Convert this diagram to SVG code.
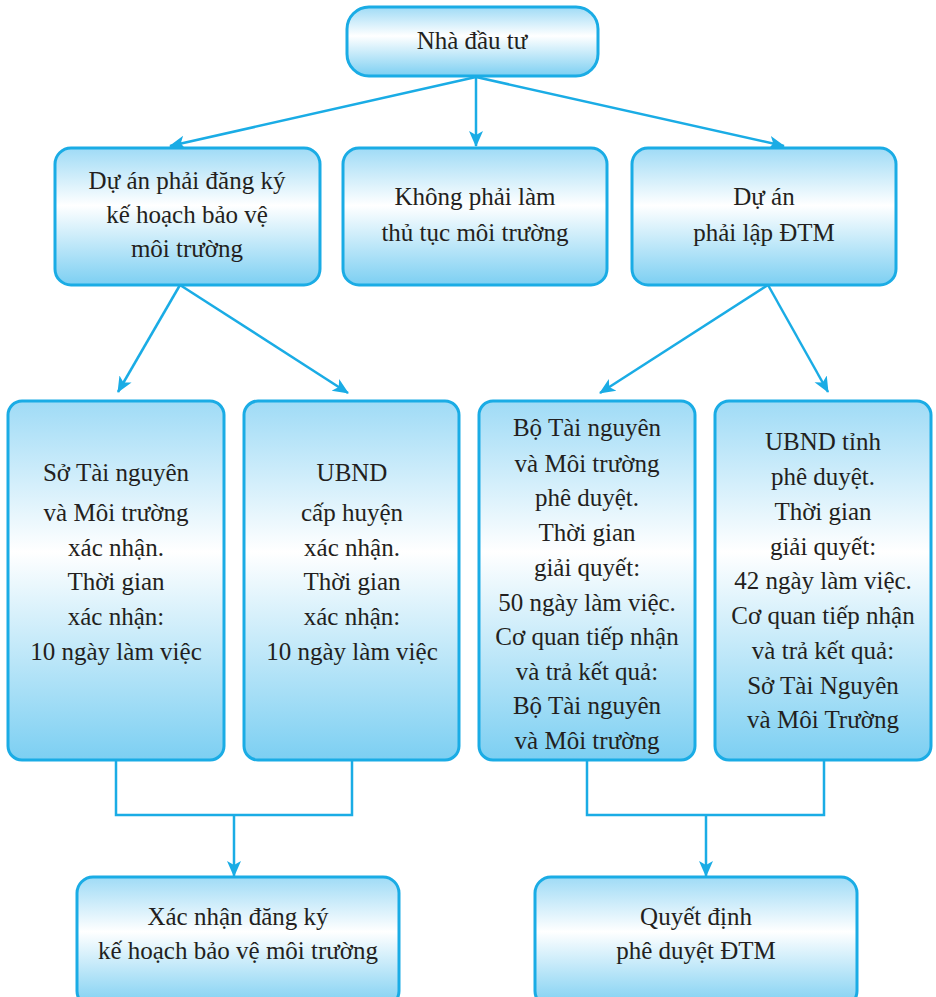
<svg xmlns="http://www.w3.org/2000/svg" width="936" height="997" viewBox="0 0 936 997">
<defs>
<linearGradient id="g" x1="0" y1="0" x2="0" y2="1">
<stop offset="0" stop-color="#9fdbf6"/>
<stop offset="0.42" stop-color="#ffffff"/>
<stop offset="1" stop-color="#7ccff2"/>
</linearGradient>
<marker id="ah" markerUnits="userSpaceOnUse" markerWidth="16" markerHeight="16" viewBox="0 0 16 16" refX="15" refY="8" orient="auto">
<path d="M0,1 L16,8 L0,15 L4,8 Z" fill="#1aace5"/>
</marker>
</defs>
<style>
.box{fill:url(#g);stroke:#1aace5;stroke-width:3}
.t{font-family:'Liberation Serif','Times New Roman',serif;font-size:25px;fill:#231f20;text-anchor:middle}
.c{fill:none;stroke:#1aace5;stroke-width:2.5}
</style>
<rect width="936" height="997" fill="#ffffff"/>
<g id="connectors">
<line class="c" x1="476" y1="77" x2="170" y2="146" marker-end="url(#ah)"/>
<line class="c" x1="476" y1="77" x2="476" y2="146" marker-end="url(#ah)"/>
<line class="c" x1="476" y1="77" x2="784" y2="146" marker-end="url(#ah)"/>
<line class="c" x1="180" y1="285" x2="118" y2="392" marker-end="url(#ah)"/>
<line class="c" x1="180" y1="285" x2="348" y2="393" marker-end="url(#ah)"/>
<line class="c" x1="768" y1="285" x2="600" y2="393" marker-end="url(#ah)"/>
<line class="c" x1="768" y1="285" x2="828" y2="392" marker-end="url(#ah)"/>
<polyline class="c" points="116,760 116,815 352,815 352,760"/>
<line class="c" x1="234" y1="815" x2="234" y2="876" marker-end="url(#ah)"/>
<polyline class="c" points="587,760 587,815 824,815 824,760"/>
<line class="c" x1="706" y1="815" x2="706" y2="876" marker-end="url(#ah)"/>
</g>
<g id="n0">
<rect class="box" x="347" y="7" width="251" height="69" rx="22"/>
<text class="t" x="472" y="49">Nhà đầu tư</text>
</g>
<g id="n1">
<rect class="box" x="55" y="148" width="265" height="137" rx="16"/>
<text class="t" x="187" y="189">Dự án phải đăng ký</text>
<text class="t" x="187" y="223">kế hoạch bảo vệ</text>
<text class="t" x="187" y="257">môi trường</text>
</g>
<g id="n2">
<rect class="box" x="343" y="148" width="264" height="137" rx="16"/>
<text class="t" x="475" y="205">Không phải làm</text>
<text class="t" x="475" y="241">thủ tục môi trường</text>
</g>
<g id="n3">
<rect class="box" x="632" y="148" width="264" height="137" rx="16"/>
<text class="t" x="764" y="205">Dự án</text>
<text class="t" x="764" y="241">phải lập ĐTM</text>
</g>
<g id="n4">
<rect class="box" x="8" y="401" width="216" height="359" rx="14"/>
<text class="t" x="116" y="481">Sở Tài nguyên</text>
<text class="t" x="116" y="521">và Môi trường</text>
<text class="t" x="116" y="556">xác nhận.</text>
<text class="t" x="116" y="590">Thời gian</text>
<text class="t" x="116" y="625">xác nhận:</text>
<text class="t" x="116" y="660">10 ngày làm việc</text>
</g>
<g id="n5">
<rect class="box" x="244" y="401" width="215" height="359" rx="14"/>
<text class="t" x="352" y="481">UBND</text>
<text class="t" x="352" y="521">cấp huyện</text>
<text class="t" x="352" y="556">xác nhận.</text>
<text class="t" x="352" y="590">Thời gian</text>
<text class="t" x="352" y="625">xác nhận:</text>
<text class="t" x="352" y="660">10 ngày làm việc</text>
</g>
<g id="n6">
<rect class="box" x="479" y="401" width="216" height="359" rx="14"/>
<text class="t" x="587" y="436">Bộ Tài nguyên</text>
<text class="t" x="587" y="472">và Môi trường</text>
<text class="t" x="587" y="506">phê duyệt.</text>
<text class="t" x="587" y="541">Thời gian</text>
<text class="t" x="587" y="576">giải quyết:</text>
<text class="t" x="587" y="611">50 ngày làm việc.</text>
<text class="t" x="587" y="645">Cơ quan tiếp nhận</text>
<text class="t" x="587" y="680">và trả kết quả:</text>
<text class="t" x="587" y="714">Bộ Tài nguyên</text>
<text class="t" x="587" y="749">và Môi trường</text>
</g>
<g id="n7">
<rect class="box" x="715" y="401" width="216" height="359" rx="14"/>
<text class="t" x="823" y="450">UBND tỉnh</text>
<text class="t" x="823" y="485">phê duyệt.</text>
<text class="t" x="823" y="520">Thời gian</text>
<text class="t" x="823" y="555">giải quyết:</text>
<text class="t" x="823" y="589">42 ngày làm việc.</text>
<text class="t" x="823" y="624">Cơ quan tiếp nhận</text>
<text class="t" x="823" y="659">và trả kết quả:</text>
<text class="t" x="823" y="694">Sở Tài Nguyên</text>
<text class="t" x="823" y="728">và Môi Trường</text>
</g>
<g id="n8">
<rect class="box" x="77" y="877" width="322" height="130" rx="16"/>
<text class="t" x="238" y="925">Xác nhận đăng ký</text>
<text class="t" x="238" y="959">kế hoạch bảo vệ môi trường</text>
</g>
<g id="n9">
<rect class="box" x="535" y="877" width="322" height="130" rx="16"/>
<text class="t" x="696" y="925">Quyết định</text>
<text class="t" x="696" y="959">phê duyệt ĐTM</text>
</g>
</svg>
